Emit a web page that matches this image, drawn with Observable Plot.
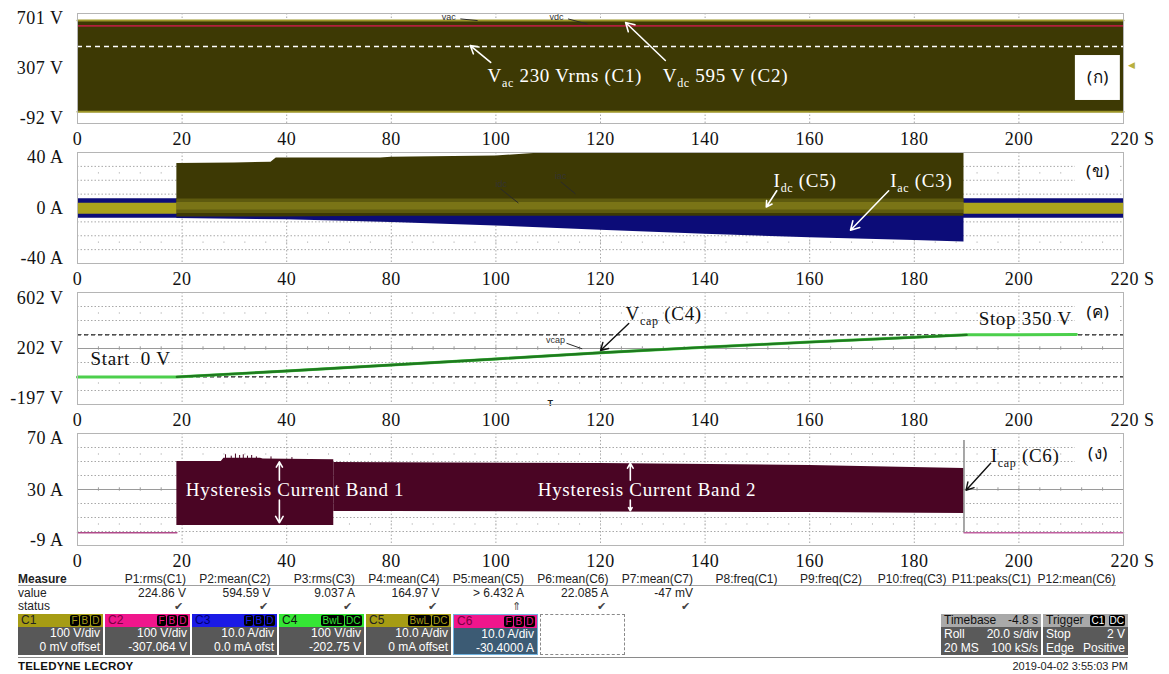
<!DOCTYPE html>
<html><head><meta charset="utf-8">
<script src="https://cdn.jsdelivr.net/npm/d3@7"></script>
<script src="https://cdn.jsdelivr.net/npm/@observablehq/plot@0.6"></script>
<style>
body{margin:0;background:#fff;width:1169px;height:674px;overflow:hidden;position:relative}
#charts svg{display:block;letter-spacing:.5px}
#charts g[font-size="19"] text{letter-spacing:.7px;word-spacing:0}
#charts g[font-size="9"] text{letter-spacing:0}
#m{position:absolute;left:0;top:570px;width:1169px;height:104px;font-family:"Liberation Sans",Arial,sans-serif;font-size:12px;color:#222}
.a{position:absolute;white-space:nowrap;line-height:14px}
</style></head><body>
<div id="charts"></div>
<div id="m"></div>
<script>
// ---------- shared x axis (time, 20 s/div) ----------
const xTicks = [0, 20, 40, 60, 80, 100, 120, 140, 160, 180, 200];
const xTickLabels = ["0", "20", "40", "80", "100", "120", "140", "160", "180", "200", "220 S"];
const minorTicks = d3.range(0, 200.01, 4);

// ---------- panel 1 : Vac (C1) / Vdc (C2) ----------
const p1Ticks = [701, 307, -92];
const p1TickLabels = ["701 V", "307 V", "-92 V"];
const vacTime = [0, 200];
const vacMin = [-8, -8];
const vacMax = [650, 650];
const vdcLevel = [612];
const vacPeakRef = [463];

// ---------- panel 2 : Iac (C3) / Idc (C5) ----------
const p2Ticks = [40, 0, -40];
const p2TickLabels = ["40 A", "0 A", "-40 A"];
const iacTime = [0, 19, 19, 40, 60, 80, 100, 120, 140, 160, 169.5, 169.5, 200];
const iacMin = [-7.3, -7.3, -7.5, -8.5, -10.5, -13, -16, -19, -21.5, -23.5, -24.5, -7.3, -7.3];
const iacMax = [6.6, 6.6, 6.6, 6.6, 6.6, 6.6, 6.6, 6.6, 6.6, 6.6, 6.6, 6.6, 6.6];
const idcTime = [19, 30, 37, 38, 58, 60, 80, 90, 169.5];
const idcMin = [-6.5, -6.5, -6.5, -6.5, -6, -6, -6, -6, -6];
const idcMax = [32, 32.5, 33, 36, 36, 36.5, 37.5, 40, 40];
const idcCoreBeforeTime = [0, 19];
const idcCoreAfterTime = [169.5, 200];
const idcCoreMin = [-4.5, -4.5];
const idcCoreMax = [3.5, 3.5];
const idcCoreRunTime = [19, 169.5];
const idcCoreRunMin = [-4, -4];
const idcCoreRunMax = [6.5, 6.5];
const idcCoreRunInnerMin = [-1.5, -1.5];
const idcCoreRunInnerMax = [4, 4];

// ---------- panel 3 : Vcap (C4) ----------
const p3Ticks = [602, 202, -197];
const p3TickLabels = ["602 V", "202 V", "-197 V"];
const vcapTime = [0, 19, 40, 60, 80, 100, 120, 140, 160, 170, 191];
const vcapVolts = [0, 0, 42, 85, 128, 172, 212, 248, 282, 300, 302];
const vcapRefs = [300, 0];

// ---------- panel 4 : Icap (C6) ----------
const p4Ticks = [70, 30, -9];
const p4TickLabels = ["70 A", "30 A", "-9 A"];
const icapIdleBeforeTime = [0, 19];
const icapIdleAfterTime = [169.5, 200];
const icapIdle = [0, 0];
const band1Time = [19, 27.5, 28, 35, 35.5, 49];
const band1Max = [50.3, 50.3, 52.5, 52.5, 52, 51.5];
const band1Min = [5.1, 5.1, 5.1, 5.1, 5.1, 5.1];
const band2Time = [49, 60, 100, 140, 169.5];
const band2Max = [49.5, 49.3, 48.8, 47.4, 45.3];
const band2Min = [15, 15, 14.6, 14.2, 13.6];
const band1SpikeTime = [28.3, 29.4, 30.2, 31, 31.7, 32.5, 33.3, 34.2, 37, 41];
const band1SpikeTop = [55, 54, 55.5, 54.5, 55, 54, 54.5, 53.5, 53.5, 53];
const icapStopTime = [169.5];
const icapStopTop = [65];

// ---------- measurement table ----------
const measureNames = ["P1:rms(C1)", "P2:mean(C2)", "P3:rms(C3)", "P4:mean(C4)", "P5:mean(C5)", "P6:mean(C6)", "P7:mean(C7)", "P8:freq(C1)", "P9:freq(C2)", "P10:freq(C3)", "P11:peaks(C1)", "P12:mean(C6)"];
const measureValues = ["224.86 V", "594.59 V", "9.037 A", "164.97 V", "> 6.432 A", "22.085 A", "-47 mV", "", "", "", "", ""];
const measureStatus = ["✔", "✔", "✔", "✔", "⇑", "✔", "✔", "", "", "", "", ""];
const chNames = ["C1", "C2", "C3", "C4", "C5", "C6"];
const chColors = ["#a69c14", "#f0168c", "#1a1ae6", "#35e635", "#a69c14", "#f0168c"];
const chNameColors = ["#222", "#7a0040", "#000070", "#111", "#222", "#7a0040"];
const chFlags = [["F","B","D"], ["F","B","D"], ["F","B","D"], ["BwL","DC"], ["BwL","DC"], ["F","B","D"]];
const chScale = ["100 V/div", "100 V/div", "10.0 A/div", "100 V/div", "10.0 A/div", "10.0 A/div"];
const chOffset = ["0 mV offset", "-307.064 V", "0.0 mA ofst", "-202.75 V", "0 mA offset", "-30.4000 A"];

// ---------- helpers ----------
const rows = (t, lo, hi) => t.map((x, i) => ({x, lo: lo[i], hi: hi ? hi[i] : undefined}));
const SERIF = "'Liberation Serif','DejaVu Serif',serif";
const THAI = "'Noto Sans','DejaVu Sans','Liberation Sans',sans-serif";

function subscripts(svg) {
  d3.select(svg).selectAll("text").each(function () {
    const t = this.textContent;
    const m = t.match(/^(.*?)_\{(.*?)\}(.*)$/);
    if (!m) return;
    const s = d3.select(this);
    s.text("");
    s.append("tspan").text(m[1]);
    s.append("tspan").attr("font-size", "12px").attr("dy", 5).text(m[2]);
    s.append("tspan").attr("dy", -5).text(m[3]);
  });
}

function panel({height, marginTop, marginBottom, domain, ticks, tickLabels, marks, dyTop, dyBot}) {
  const [lo, hi] = domain;
  const div = (hi - lo) / 8;
  const hLines = d3.range(9).map(i => lo + i * div).filter((v, i) => i > 0 && i < 8 && i !== 4);
  const center = lo + 4 * div;
  const svg = Plot.plot({
    width: 1169, height, marginLeft: 77, marginRight: 46, marginTop, marginBottom,
    style: {fontFamily: SERIF, fontSize: "18px", background: "transparent", overflow: "visible", color: "#111"},
    x: {domain: [0, 200]},
    y: {domain},
    marks: [
      Plot.ruleY(hLines, {stroke: "#a8a8a8", strokeDasharray: "1.5,2"}),
      Plot.ruleX(xTicks.slice(1, -1), {stroke: "#a8a8a8", strokeDasharray: "1.5,2"}),
      Plot.ruleY([center], {stroke: "#9a9a9a"}),
      Plot.ruleX(minorTicks, {y1: center - div * 0.12, y2: center + div * 0.12, stroke: "#9a9a9a"}),
      Plot.ruleX(minorTicks, {y1: lo + 1.5 * div - div * 0.06, y2: lo + 1.5 * div + div * 0.06, stroke: "#c4c4c4"}),
      Plot.ruleX(minorTicks, {y1: lo + 6.5 * div - div * 0.06, y2: lo + 6.5 * div + div * 0.06, stroke: "#c4c4c4"}),
      ...marks,
      Plot.frame({stroke: "#b5b5b5"}),
      Plot.axisX(xTicks.slice(0, -1), {tickSize: 0, tickPadding: 9, tickFormat: d => xTickLabels[xTicks.indexOf(d)]}),
      Plot.axisX(xTicks.slice(-1), {tickSize: 0, tickPadding: 9, textAnchor: "start", dx: -13, tickFormat: d => xTickLabels[xTicks.indexOf(d)]}),
      Plot.axisY([ticks[0]], {tickSize: 0, tickPadding: 14, dy: dyTop, tickFormat: () => tickLabels[0]}),
      Plot.axisY([ticks[1]], {tickSize: 0, tickPadding: 14, tickFormat: () => tickLabels[1]}),
      Plot.axisY([ticks[2]], {tickSize: 0, tickPadding: 14, dy: dyBot, tickFormat: () => tickLabels[2]})
    ]
  });
  subscripts(svg);
  document.getElementById("charts").appendChild(svg);
}

const whiteText = {fill: "white", fontSize: 19, fontFamily: SERIF, textAnchor: "start"};
const blackText = {fill: "#111", fontSize: 19, fontFamily: SERIF, textAnchor: "start"};
const tiny = {fill: "#333", fontSize: 9, fontFamily: "'Liberation Sans',sans-serif", textDecoration: "underline"};
const leader = {x1: "x1", y1: "y1", x2: "x2", y2: "y2", stroke: "#2a2a2a", strokeWidth: 1};

// ---------- panel 1 ----------
panel({
  height: 150, marginTop: 13, marginBottom: 27, domain: [-92, 701], ticks: p1Ticks, tickLabels: p1TickLabels, dyTop: 5, dyBot: -5,
  marks: [
    Plot.areaY(rows(vacTime, vacMin, vacMax), {x: "x", y1: "lo", y2: "hi", fill: "#3d3904"}),
    Plot.lineY(rows(vacTime, vacMax), {x: "x", y: "lo", stroke: "#9c9528", strokeWidth: 2}),
    Plot.lineY(rows(vacTime, vacMin), {x: "x", y: "lo", stroke: "#9c9528", strokeWidth: 2}),
    Plot.ruleY(vdcLevel, {stroke: "#b2203c", strokeWidth: 1.6}),
    Plot.ruleY(vacPeakRef, {stroke: "white", strokeWidth: 1.3, strokeDasharray: "5,4"}),
    Plot.text(["vac"], {x: 71, y: 676, ...tiny}),
    Plot.text(["vdc"], {x: 91.6, y: 676, ...tiny}),
    Plot.link([{x1: 73.2, y1: 662, x2: 76.5, y2: 650}, {x1: 93.8, y1: 662, x2: 97.5, y2: 625}], leader),
    Plot.text(["V_{ac} 230 Vrms (C1)"], {x: 78.4, y: 250, ...whiteText}),
    Plot.text(["V_{dc} 595 V (C2)"], {x: 111.9, y: 250, ...whiteText}),
    Plot.arrow([{x1: 79, y1: 348, x2: 75.1, y2: 470}, {x1: 112.4, y1: 362, x2: 104.8, y2: 636}],
      {x1: "x1", y1: "y1", x2: "x2", y2: "y2", stroke: "white", strokeWidth: 1.6, headLength: 9}),
    Plot.rect([{a: 190.8, b: 199.4, c: 74, d: 398}], {x1: "a", x2: "b", y1: "c", y2: "d", fill: "white"}),
    Plot.text(["(ก)"], {x: 195.1, y: 240, fill: "#111", fontSize: 17, fontFamily: THAI}),
    Plot.text(["◀"], {x: 200, y: 326, dx: 8, fill: "#b8b040", fontSize: 9})
  ]
});

// ---------- panel 2 ----------
panel({
  height: 140, marginTop: 2, marginBottom: 27, domain: [-40, 40], ticks: p2Ticks, tickLabels: p2TickLabels, dyTop: 5, dyBot: -5,
  marks: [
    Plot.areaY(rows(iacTime, iacMin, iacMax), {x: "x", y1: "lo", y2: "hi", fill: "#0c0c78"}),
    Plot.areaY(rows(idcTime, idcMin, idcMax), {x: "x", y1: "lo", y2: "hi", fill: "#3d3904"}),
    Plot.areaY(rows(idcCoreRunTime, idcCoreRunMin, idcCoreRunMax), {x: "x", y1: "lo", y2: "hi", fill: "#5e5a0e"}),
    Plot.areaY(rows(idcCoreRunTime, idcCoreRunInnerMin, idcCoreRunInnerMax), {x: "x", y1: "lo", y2: "hi", fill: "#7a7416"}),
    Plot.areaY(rows(idcCoreBeforeTime, idcCoreMin, idcCoreMax), {x: "x", y1: "lo", y2: "hi", fill: "#aaa21c"}),
    Plot.areaY(rows(idcCoreAfterTime, idcCoreMin, idcCoreMax), {x: "x", y1: "lo", y2: "hi", fill: "#aaa21c"}),
    Plot.text(["idc"], {x: 81, y: 17.5, ...tiny}),
    Plot.text(["iac"], {x: 92.4, y: 23.3, ...tiny}),
    Plot.link([{x1: 80.9, y1: 13.8, x2: 84.3, y2: 3.6}, {x1: 92.4, y1: 18.9, x2: 95.2, y2: 10.2}], leader),
    Plot.text(["I_{dc} (C5)"], {x: 133.1, y: 19.6, ...whiteText}),
    Plot.text(["I_{ac} (C3)"], {x: 155.4, y: 19.6, ...whiteText}),
    Plot.arrow([{x1: 133.7, y1: 12.4, x2: 131.7, y2: 0.7}, {x1: 155.1, y1: 12.4, x2: 147.8, y2: -16}],
      {x1: "x1", y1: "y1", x2: "x2", y2: "y2", stroke: "white", strokeWidth: 1.6, headLength: 9}),
    Plot.rect([{a: 190.8, b: 199.4, c: 12.4, d: 40}], {x1: "a", x2: "b", y1: "c", y2: "d", fill: "white"}),
    Plot.text(["(ข)"], {x: 195.1, y: 26, fill: "#111", fontSize: 17, fontFamily: THAI})
  ]
});

// ---------- panel 3 ----------
panel({
  height: 142, marginTop: 2, marginBottom: 28, domain: [-197, 602], ticks: p3Ticks, tickLabels: p3TickLabels, dyTop: 6, dyBot: -6,
  marks: [
    Plot.ruleY(vcapRefs, {stroke: "#222", strokeWidth: 1.2, strokeDasharray: "4,3"}),
    Plot.lineY(rows(vcapTime, vcapVolts), {x: "x", y: "lo", stroke: "#4ccf4c", strokeWidth: 3}),
    Plot.lineY(rows(vcapTime.slice(1, 10), vcapVolts.slice(1, 10)), {x: "x", y: "lo", stroke: "#1f7a1f", strokeWidth: 2.4}),
    Plot.text(["vcap"], {x: 91.4, y: 262, ...tiny}),
    Plot.link([{x1: 93.5, y1: 240, x2: 96.5, y2: 200}], leader),
    Plot.text(["T"], {x: 90.4, y: -185, fill: "#222", fontSize: 9, fontWeight: "bold", fontFamily: "'Liberation Sans',sans-serif"}),
    Plot.text(["Start  0 V"], {x: 2.5, y: 131, ...blackText}),
    Plot.text(["V_{cap} (C4)"], {x: 104.8, y: 452, ...blackText}),
    Plot.text(["Stop 350 V"], {x: 172.3, y: 416, ...blackText}),
    Plot.arrow([{x1: 105.4, y1: 381, x2: 100, y2: 188}],
      {x1: "x1", y1: "y1", x2: "x2", y2: "y2", stroke: "#111", strokeWidth: 1.4, headLength: 9}),
    Plot.rect([{a: 190.8, b: 199.4, c: 331, d: 602}], {x1: "a", x2: "b", y1: "c", y2: "d", fill: "white"}),
    Plot.text(["(ค)"], {x: 195.1, y: 460, fill: "#111", fontSize: 17, fontFamily: THAI})
  ]
});

// ---------- panel 4 ----------
panel({
  height: 140, marginTop: 1, marginBottom: 27, domain: [-9, 70], ticks: p4Ticks, tickLabels: p4TickLabels, dyTop: 5, dyBot: -5,
  marks: [
    Plot.lineY(rows(icapIdleBeforeTime, icapIdle), {x: "x", y: "lo", stroke: "#b04a8a", strokeWidth: 1.5}),
    Plot.lineY(rows(icapIdleAfterTime, icapIdle), {x: "x", y: "lo", stroke: "#c060a0", strokeWidth: 1.5}),
    Plot.ruleX(rows(band1SpikeTime, band1SpikeTop), {x: "x", y1: 50, y2: "lo", stroke: "#4a0524", strokeWidth: 1}),
    Plot.areaY(rows(band1Time, band1Min, band1Max), {x: "x", y1: "lo", y2: "hi", fill: "#4a0524"}),
    Plot.areaY(rows(band2Time, band2Min, band2Max), {x: "x", y1: "lo", y2: "hi", fill: "#4a0524"}),
    Plot.ruleX(rows(icapStopTime, icapStopTop), {x: "x", y1: 0, y2: "lo", stroke: "#8a8a8a", strokeWidth: 1.5}),
    Plot.text(["Hysteresis Current Band 1"], {x: 20.7, y: 30, ...whiteText}),
    Plot.text(["Hysteresis Current Band 2"], {x: 88, y: 30, ...whiteText}),
    Plot.arrow([
      {x1: 38.6, y1: 37, x2: 38.6, y2: 50}, {x1: 38.6, y1: 23, x2: 38.6, y2: 7},
      {x1: 105.7, y1: 37, x2: 105.7, y2: 49}, {x1: 105.7, y1: 23, x2: 105.7, y2: 15.5}
    ], {x1: "x1", y1: "y1", x2: "x2", y2: "y2", stroke: "white", strokeWidth: 1.6, headLength: 7}),
    Plot.rect([{a: 190.8, b: 199.4, c: 44, d: 70}], {x1: "a", x2: "b", y1: "c", y2: "d", fill: "white"}),
    Plot.text(["I_{cap} (C6)"], {x: 174.6, y: 54.5, ...blackText}),
    Plot.arrow([{x1: 174.6, y1: 49, x2: 169.9, y2: 30}],
      {x1: "x1", y1: "y1", x2: "x2", y2: "y2", stroke: "#111", strokeWidth: 1.4, headLength: 9}),
    Plot.text(["(ง)"], {x: 195.1, y: 56, fill: "#111", fontSize: 17, fontFamily: THAI})
  ]
});

// ---------- measurement / channel panel (HTML) ----------
const M = document.getElementById("m");
function el(css, html) {
  const d = document.createElement("div");
  d.className = "a";
  Object.assign(d.style, css);
  d.innerHTML = html ?? "";
  M.appendChild(d);
  return d;
}
el({left: "18px", top: "2px", fontWeight: "bold"}, "Measure");
el({left: "18px", top: "16px"}, "value");
el({left: "18px", top: "29px"}, "status");
el({left: "18px", top: "15px", width: "1098px", height: "0", borderTop: "1px solid #a0a0a0"});
measureNames.forEach((n, k) => {
  const right = 186 + 84.5 * k;
  el({left: (right - 100) + "px", top: "2px", width: "100px", textAlign: "right"}, n);
  el({left: (right - 100) + "px", top: "16px", width: "100px", textAlign: "right"}, measureValues[k]);
  el({left: (right - 103) + "px", top: "29px", width: "100px", textAlign: "right", fontSize: "11px", color: "#444"}, measureStatus[k]);
});
chNames.forEach((n, k) => {
  const left = 18 + 87 * k;
  const box = el({left: left + "px", top: "44px", width: "85px", height: "41px", background: k === 5 ? "#3c5b74" : "#585858",
    boxSizing: "border-box", border: k === 5 ? "1px solid #6fb0dc" : "none"});
  const head = document.createElement("div");
  Object.assign(head.style, {position: "absolute", left: 0, top: 0, right: 0, height: "13px", background: chColors[k], lineHeight: "13px", fontSize: "12px", color: chNameColors[k], paddingLeft: "3px"});
  head.textContent = n;
  const flags = document.createElement("div");
  Object.assign(flags.style, {position: "absolute", right: "2px", top: "1px", display: "flex", gap: "1px"});
  chFlags[k].forEach(f => {
    const s = document.createElement("span");
    Object.assign(s.style, {background: "#000", color: chColors[k], fontSize: "10px", lineHeight: "11px", padding: "0 1.5px", borderRadius: "2px"});
    s.textContent = f;
    flags.appendChild(s);
  });
  head.appendChild(flags);
  box.appendChild(head);
  const body = document.createElement("div");
  Object.assign(body.style, {position: "absolute", right: "3px", top: "13px", textAlign: "right", color: "#fff", lineHeight: "13.5px", fontSize: "12px"});
  body.innerHTML = chScale[k] + "<br>" + chOffset[k];
  box.appendChild(body);
});
el({left: (18 + 87 * 6) + "px", top: "44px", width: "85px", height: "41px", boxSizing: "border-box", border: "1px dashed #8a8a8a"});
el({left: "18px", top: "87px", width: "1110px", height: "0", borderTop: "1.5px solid #8a8a8a"});
el({left: "18px", top: "89px", fontSize: "11.5px", letterSpacing: "0.2px", color: "#111"}, "<b style='font-weight:900'>TELEDYNE</b> <span style='font-weight:600'>LECROY</span>");
el({left: "928px", top: "89px", width: "200px", textAlign: "right", fontSize: "11px"}, "2019-04-02 3:55:03 PM");
// timebase & trigger
function infoBox(left, width, headL, headR, l1, r1, l2, r2) {
  const b = el({left: left + "px", top: "44px", width: width + "px", height: "41px", background: "#5a5a5a"});
  b.innerHTML =
    `<div style="position:absolute;left:0;right:0;top:0;height:13px;background:#a9a9a9;color:#111;line-height:13px;padding:0 3px">` +
    `<span>${headL}</span><span style="position:absolute;right:3px">${headR}</span></div>` +
    `<div style="position:absolute;left:3px;right:3px;top:14px;color:#fff;line-height:13.5px">` +
    `<div>${l1}<span style="position:absolute;right:0">${r1}</span></div>` +
    `<div>${l2}<span style="position:absolute;right:0">${r2}</span></div></div>`;
}
infoBox(941, 100, "Timebase", "-4.8 s", "Roll", "20.0 s/div", "20 MS", "100 kS/s");
infoBox(1043, 85, "Trigger", "<span style='background:#000;color:#fff;font-size:10px;padding:0 1px;border-radius:2px'>C1</span> <span style='background:#000;color:#fff;font-size:10px;padding:0 1px;border-radius:2px'>DC</span>", "Stop", "2 V", "Edge", "Positive");
</script></body></html>
